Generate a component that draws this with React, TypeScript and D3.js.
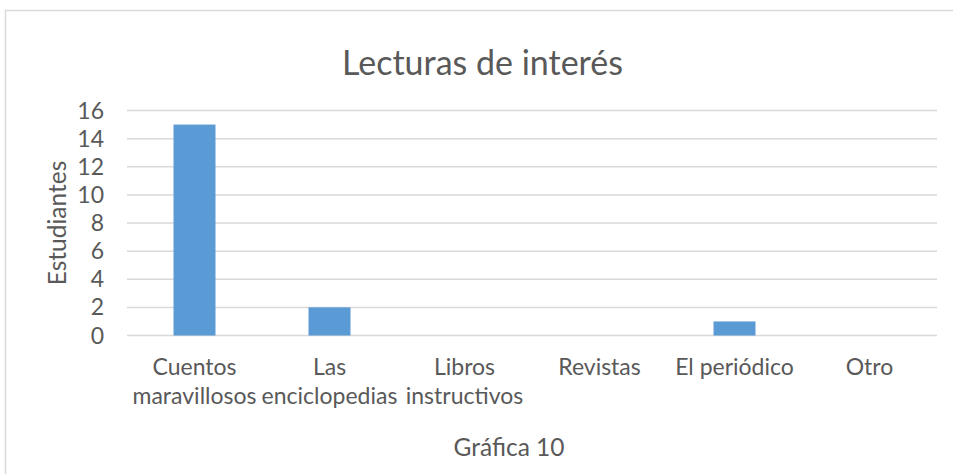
import React from "react";
import * as d3 from "d3";

const categories = [
  "Cuentos\nmaravillosos",
  "Las\nenciclopedias",
  "Libros\ninstructivos",
  "Revistas",
  "El periódico",
  "Otro",
];
const values = [15, 2, 0, 0, 1, 0];
const yTicks = [0, 2, 4, 6, 8, 10, 12, 14, 16];
const title = "Lecturas de interés";
const xTitle = "Gráfica 10";
const yTitle = "Estudiantes";

const W = 953;
const H = 474;
const FONT = "Lato, 'Open Sans', sans-serif";
const TEXT = "#595959";

export default function App() {
  const x = d3
    .scaleBand<string>()
    .domain(categories)
    .range([127, 937])
    .paddingInner(0.689)
    .paddingOuter(0.3445);
  const y = d3.scaleLinear().domain([0, 16]).range([335.5, 110.5]);

  return (
    <svg
      width={W}
      height={H}
      style={{ position: "absolute", left: 0, top: 0, background: "#fff" }}
      fontFamily={FONT}
    >
      <rect x={0} y={0} width={W} height={H} fill="#fff" />
      <rect x={5.5} y={10.5} width={W + 20} height={H + 20} fill="none" stroke="#d9d9d9" strokeWidth={1.5} />
      <text x={482.5} y={75} textAnchor="middle" fontSize={34} fill={TEXT}>
        {title}
      </text>
      {yTicks.map((t) => (
        <g key={t}>
          <line x1={127} x2={937} y1={y(t)} y2={y(t)} stroke="#d9d9d9" strokeWidth={1.5} />
          <text x={104} y={y(t) + 8} textAnchor="end" fontSize={23} fill={TEXT}>
            {t}
          </text>
        </g>
      ))}
      {categories.map((c, i) =>
        values[i] > 0 ? (
          <rect
            key={c}
            x={x(c)}
            y={y(values[i])}
            width={x.bandwidth()}
            height={y(0) - y(values[i])}
            fill="#5b9bd5"
          />
        ) : null
      )}
      {categories.map((c) => (
        <text key={c} textAnchor="middle" fontSize={23} fill={TEXT}>
          {c.split("\n").map((line, j) => (
            <tspan key={j} x={(x(c) as number) + x.bandwidth() / 2} y={375 + j * 28.5}>
              {line}
            </tspan>
          ))}
        </text>
      ))}
      <text x={509} y={456} textAnchor="middle" fontSize={24.5} fill={TEXT}>
        {xTitle}
      </text>
      <text
        transform={`translate(66,223) rotate(-90)`}
        textAnchor="middle"
        fontSize={24.5}
        fill={TEXT}
      >
        {yTitle}
      </text>
    </svg>
  );
}
